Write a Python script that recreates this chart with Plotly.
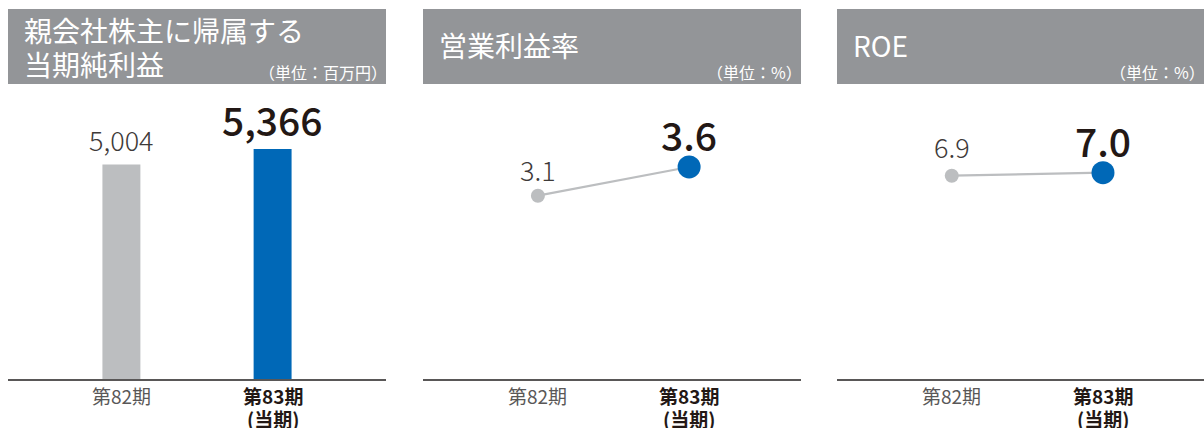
import plotly.graph_objects as go

# ---- data ----
periods = ["第82期", "第83期"]
period_notes = ["", "(当期)"]
net_income = [5004, 5366]          # 百万円
op_margin = [3.1, 3.6]             # %
roe = [6.9, 7.0]                   # %
net_income_text = ["5,004", "5,366"]
op_margin_text = ["3.1", "3.6"]
roe_text = ["6.9", "7.0"]

titles = [["親会社株主に帰属する", "当期純利益"], ["営業利益率"], ["ROE"]]
units = ["（単位：百万円）", "（単位：%）", "（単位：%）"]

# ---- style ----
W, H = 1204, 428
GRAY = "#bcbec0"
BLUE = "#0068b7"
HEAD = "#939598"
DARK = "#231815"
MID = "#3e3a39"
AXIS = "#595757"
FONT = "Noto Sans CJK JP"

def px_x(p):
    return p / W

def px_y(p):
    return 1 - p / H

y_dom = [px_y(379.3), px_y(100)]
panels = [(8, 386), (423, 801), (837, 1204)]
x_ranges = [[-0.75, 1.75], [-0.76, 1.74], [-0.759, 1.668]]
y_ranges = [[0, 6507], [-0.099, 4.767], [0.113, 9.423]]

fig = go.Figure()
xpos = [0, 1]

fig.add_trace(go.Bar(x=xpos, y=net_income, width=0.251,
                     marker=dict(color=[GRAY, BLUE], line=dict(width=0)),
                     xaxis="x", yaxis="y", hoverinfo="skip"))
for vals, ax in [(op_margin, ("x2", "y2")), (roe, ("x3", "y3"))]:
    fig.add_trace(go.Scatter(x=xpos, y=vals, mode="lines",
                             line=dict(color=GRAY, width=2.2),
                             xaxis=ax[0], yaxis=ax[1], hoverinfo="skip"))
    fig.add_trace(go.Scatter(x=xpos, y=vals, mode="markers",
                             marker=dict(color=[GRAY, BLUE], size=[14, 23], opacity=1,
                                         line=dict(width=0)),
                             xaxis=ax[0], yaxis=ax[1], hoverinfo="skip"))

layout = dict(width=W, height=H, margin=dict(l=0, r=0, t=0, b=0),
              paper_bgcolor="white", plot_bgcolor="white", showlegend=False,
              font=dict(family=FONT))
for k in range(3):
    sx = "" if k == 0 else str(k + 1)
    layout["xaxis" + sx] = dict(domain=[px_x(panels[k][0]), px_x(panels[k][1])],
                                range=x_ranges[k], anchor="y" + sx,
                                showline=True, linecolor=AXIS, linewidth=1.5,
                                showgrid=False, zeroline=False, showticklabels=False,
                                ticks="", fixedrange=True)
    layout["yaxis" + sx] = dict(domain=y_dom, range=y_ranges[k], anchor="x" + sx,
                                visible=False, showgrid=False, zeroline=False, fixedrange=True)
fig.update_layout(**layout)

# headers
for k, (a, b) in enumerate(panels):
    fig.add_shape(type="rect", xref="paper", yref="paper",
                  x0=px_x(a), x1=px_x(b), y0=px_y(84), y1=px_y(9),
                  fillcolor=HEAD, line=dict(width=0), layer="below")
    lines = titles[k]
    ys = [30, 64] if len(lines) == 2 else [45]
    for t, yy in zip(lines, ys):
        fig.add_annotation(text=t, xref="paper", yref="paper", x=px_x(a + 14), y=px_y(yy),
                           xanchor="left", yanchor="middle", showarrow=False,
                           font=dict(size=28, color="white", family=FONT))
    fig.add_annotation(text=units[k], xref="paper", yref="paper",
                       x=px_x(b + 3), y=px_y(72),
                       xanchor="right", yanchor="middle", showarrow=False,
                       font=dict(size=16, color="white", family=FONT))

# value labels
specs = [("x", "y", net_income, net_income_text, [25, 29.5]),
         ("x2", "y2", op_margin, op_margin_text, [25.7, 33]),
         ("x3", "y3", roe, roe_text, [29, 32.7])]
for xr, yr, vals, txts, shifts in specs:
    for i in range(2):
        cur = i == 1
        fig.add_annotation(text=txts[i], xref=xr, yref=yr, x=xpos[i], y=vals[i],
                           xanchor="center", yanchor="middle", yshift=shifts[i],
                           showarrow=False,
                           font=dict(size=39 if cur else 27, color=DARK if cur else MID,
                                     family=FONT, weight=500 if cur else 300))

# period labels
for xr in ["x", "x2", "x3"]:
    for i in range(2):
        cur = i == 1
        txt = "<b>" + periods[i] + "</b>" if cur else periods[i]
        fig.add_annotation(text=txt, xref=xr, yref="paper", x=xpos[i], y=px_y(395),
                           xanchor="center", yanchor="middle", showarrow=False,
                           font=dict(size=19, color=DARK if cur else AXIS, family=FONT))
        if period_notes[i]:
            fig.add_annotation(text="<b>" + period_notes[i] + "</b>", xref=xr, yref="paper",
                               x=xpos[i], y=px_y(418), xanchor="center", yanchor="middle",
                               showarrow=False,
                               font=dict(size=19, color=DARK, family=FONT))

fig.write_html("out.html")
